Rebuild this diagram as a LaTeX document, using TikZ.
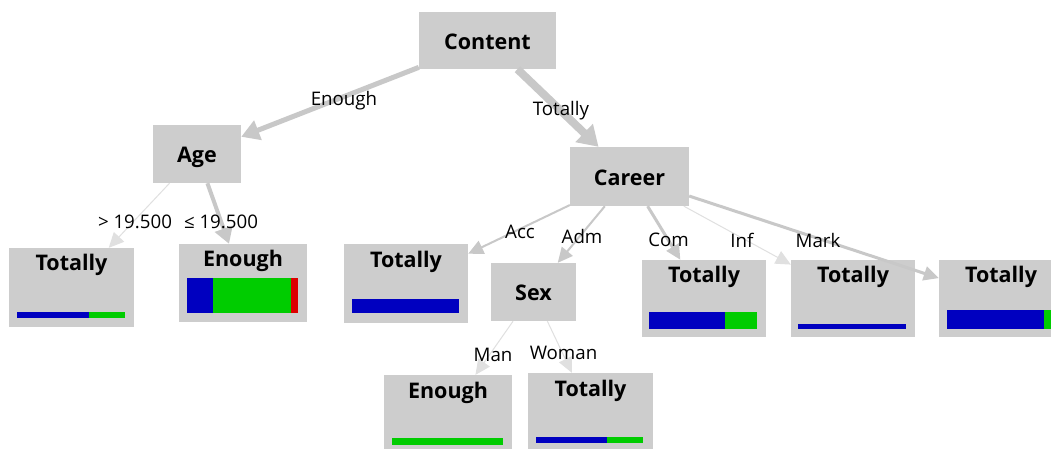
\documentclass[tikz,border=0pt]{standalone}
\usepackage{fontspec}
\setmainfont{Open Sans}
\usetikzlibrary{arrows.meta}
\definecolor{boxgray}{HTML}{CDCDCD}
\definecolor{edgegray}{HTML}{C8C8C8}
\definecolor{paleedge}{HTML}{E0E0E0}
\definecolor{barblue}{HTML}{0000C0}
\definecolor{bargreen}{HTML}{00CC00}
\definecolor{barred}{HTML}{DD0000}
\begin{document}
\begin{tikzpicture}[x=1pt,y=-1pt,
  innerbox/.style={fill=boxgray, draw=none, inner sep=0pt,
    font=\fontsize{21.5}{24}\selectfont\bfseries, text height=17.5pt, text depth=0pt},
  leafbox/.style={fill=boxgray, draw=none, inner sep=0pt, minimum width=124pt, minimum height=78pt},
  leaftext/.style={anchor=base, inner sep=0pt, font=\fontsize{21.5}{24}\selectfont\bfseries},
  elabel/.style={anchor=base, inner sep=0pt, font=\fontsize{18.7}{21}\selectfont},
  edge/.style={draw=edgegray, -{Triangle[length=15pt,width=14pt]}},
  paleedgestyle/.style={draw=paleedge, line width=1pt, -{Triangle[length=15pt,width=14pt]}}
]
\clip (0,0) rectangle (1051,448);
\fill[white] (0,0) rectangle (1051,448);

% internal nodes
\node[innerbox, minimum width=137pt, minimum height=57pt] (content) at (487.5,40.5) {Content};
\node[innerbox, minimum width=88pt, minimum height=58pt] (age) at (197,154) {Age};
\node[innerbox, minimum width=119pt, minimum height=59pt] (career) at (629.5,176.5) {Career};
\node[innerbox, minimum width=85pt, minimum height=58pt] (sex) at (533.5,292) {Sex};

% leaves
\node[leafbox, minimum width=125pt, minimum height=79pt] (ltot) at (71.5,287.5) {};
\node[leaftext] (ltott) at (71.5,270) {Totally};
\node[leafbox, minimum width=128pt] (lenough) at (243,283) {};
\node[leaftext] (lenought) at (243,266.5) {Enough};
\node[leafbox, minimum height=79pt] (lacc) at (406,283.5) {};
\node[leaftext] (lacct) at (406,267) {Totally};
\node[leafbox, minimum height=77pt] (lcom) at (704,298.5) {};
\node[leaftext] (lcomt) at (704,282) {Totally};
\node[leafbox, minimum height=77pt] (linf) at (853,298.5) {};
\node[leaftext] (linft) at (853,282) {Totally};
\node[leafbox, minimum height=77pt] (lmark) at (1001,298.5) {};
\node[leaftext] (lmarkt) at (1001,282) {Totally};
\node[leafbox, minimum width=128pt] (lman) at (448,414) {};
\node[leaftext] (lmant) at (448,398.5) {Enough};
\node[leafbox, minimum width=125pt] (lwom) at (590.5,412) {};
\node[leaftext] (lwomt) at (590.5,396) {Totally};

% bars
\fill[barblue] (17,312) rectangle (89,318);
\fill[bargreen] (89,312) rectangle (125,318);
\fill[barblue] (187,278) rectangle (213,313);
\fill[bargreen] (213,278) rectangle (291,313);
\fill[barred] (291,278) rectangle (298,313);
\fill[barblue] (352,299) rectangle (459,313);
\fill[barblue] (649,312) rectangle (725,329);
\fill[bargreen] (725,312) rectangle (757,329);
\fill[barblue] (798,324) rectangle (906,329);
\fill[barblue] (947,310) rectangle (1044,329);
\fill[bargreen] (1044,310) rectangle (1055,329);
\fill[bargreen] (392,438) rectangle (503,445);
\fill[barblue] (536,437) rectangle (607,443);
\fill[bargreen] (607,437) rectangle (643,443);

% edges
\draw[edge, line width=5pt, -{Triangle[length=18pt,width=20pt]}] (content) -- (age);
\draw[edge, line width=8pt, -{Triangle[length=20pt,width=24pt]}] (content) -- (career);
\draw[paleedgestyle] (age) -- (ltot);
\draw[edge, line width=4pt, -{Triangle[length=16pt,width=18pt]}] (age) -- (lenough);
\draw[edge, line width=2pt] (career) -- (lacc);
\draw[edge, line width=2pt] (career) -- (sex);
\draw[edge, line width=3pt] (career) -- (lcom);
\draw[paleedgestyle] (career) -- (linf);
\draw[edge, line width=3pt] (career) -- (lmark);
\draw[paleedgestyle] (sex) -- (lman);
\draw[paleedgestyle] (sex) -- (lwom);

% edge labels
\node[elabel] (e1) at (344,105) {Enough};
\node[elabel] (e2) at (561,115) {Totally};
\node[elabel] (e3) at (135,228) {> 19.500};
\node[elabel] (e4) at (221,228) {≤ 19.500};
\node[elabel] (e5) at (520,238) {Acc};
\node[elabel] (e6) at (582,243) {Adm};
\node[elabel] (e7) at (668.5,246) {Com};
\node[elabel] (e8) at (742,247) {Inf};
\node[elabel] (e9) at (818,247) {Mark};
\node[elabel] (e10) at (493,361) {Man};
\node[elabel] (e11) at (563.5,359) {Woman};
\end{tikzpicture}
\end{document}
